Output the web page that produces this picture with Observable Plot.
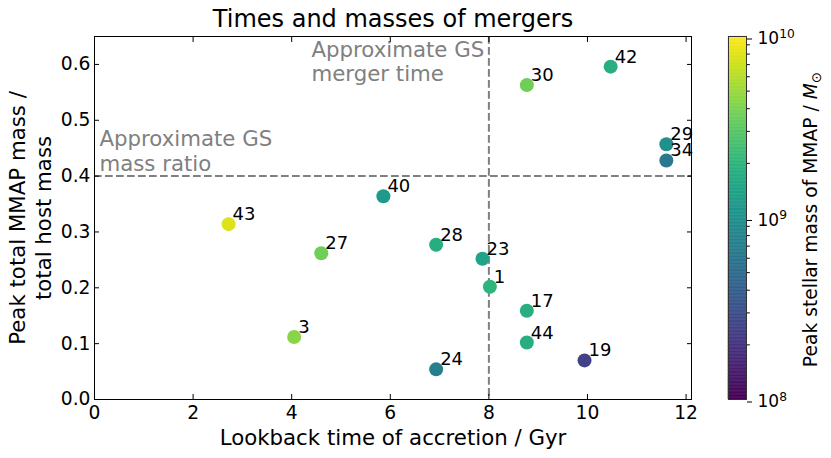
<!DOCTYPE html>
<html>
<head>
<meta charset="utf-8">
<script src="https://cdn.jsdelivr.net/npm/d3@7"></script>
<script src="https://cdn.jsdelivr.net/npm/@observablehq/plot@0.6"></script>
<style>
  html, body { margin: 0; padding: 0; background: white; }
  #wrap { position: relative; width: 831px; height: 458px; overflow: hidden; background: white; }
  #main { position: absolute; left: 0; top: 0; }
  #cbar { position: absolute; left: 700px; top: 0; }
</style>
</head>
<body>
<div id="wrap"><div id="main"></div><div id="cbar"></div></div>
<script>
// ---- data ----
const ids = ["43", "27", "3", "40", "28", "24", "23", "1", "30", "17", "44", "19", "42", "29", "34"];
const lookback = [2.72, 4.60, 4.05, 5.86, 6.93, 6.93, 7.87, 8.02, 8.77, 8.77, 8.77, 9.94, 10.47, 11.60, 11.60];
const massRatio = [0.314, 0.262, 0.112, 0.364, 0.277, 0.054, 0.252, 0.202, 0.563, 0.159, 0.102, 0.070, 0.596, 0.457, 0.428];
const stellarMass = [7.9e9, 3.6e9, 4.4e9, 1.2e9, 1.75e9, 7.2e8, 1.45e9, 2.0e9, 3.6e9, 1.8e9, 1.8e9, 2.5e8, 1.8e9, 1.0e9, 6.3e8];

const xTicks = [0, 2, 4, 6, 8, 10, 12];
const yTicks = [0, 0.1, 0.2, 0.3, 0.4, 0.5, 0.6];
const cbMajor = [1e8, 1e9, 1e10];
const cbMinor = [2e8, 3e8, 4e8, 5e8, 6e8, 7e8, 8e8, 9e8, 2e9, 3e9, 4e9, 5e9, 6e9, 7e9, 8e9, 9e9];

const gsTime = [8];
const gsRatio = [0.4];
const annotX = [4.4, 0.1];
const annotY = [0.570, 0.410];
const annotText = ["Approximate GS\nmerger time", "Approximate GS\nmass ratio"];

const title = "Times and masses of mergers";
const xLabel = "Lookback time of accretion / Gyr";
const yLabel1 = "Peak total MMAP mass /";
const yLabel2 = "total host mass";
const cbLabel = "Peak stellar mass of MMAP / M⊙";

const points = ids.map((id, i) => ({id, x: lookback[i], y: massRatio[i], m: stellarMass[i]}));
const annots = annotText.map((t, i) => ({x: annotX[i], y: annotY[i], t}));

const colorOpts = {type: "log", scheme: "viridis", domain: [1e8, 1e10]};
const FONT = "DejaVu Sans";

// ---- main chart ----
const main = Plot.plot({
  width: 700,
  height: 458,
  marginLeft: 94,
  marginRight: 9,
  marginTop: 36,
  marginBottom: 59,
  style: {fontFamily: FONT, fontSize: "18.7px", background: "white", color: "black", overflow: "visible"},
  x: {domain: [0, 12.11]},
  y: {domain: [0, 0.65]},
  color: colorOpts,
  marks: [
    Plot.ruleX(gsTime, {stroke: "#808080", strokeWidth: 2, strokeDasharray: "7.7,3.3"}),
    Plot.ruleY(gsRatio, {stroke: "#808080", strokeWidth: 2, strokeDasharray: "7.7,3.3"}),
    Plot.text(annots, {x: "x", y: "y", text: "t", textAnchor: "start", lineAnchor: "bottom", lineHeight: 1.14, fill: "#808080", fontSize: 21.3}),
    Plot.dot(points, {x: "x", y: "y", r: 7, fill: "m"}),
    Plot.text(points, {x: "x", y: "y", text: "id", textAnchor: "start", lineAnchor: "bottom", dx: 4, dy: -4, fontSize: 18, fill: "black"}),
    Plot.frame({stroke: "black", strokeWidth: 1}),
    Plot.axisX({ticks: xTicks, tickSize: -5, tickPadding: 11, tickFormat: d3.format("d"), label: null}),
    Plot.axisX({anchor: "top", ticks: xTicks, tickSize: -5, tickFormat: () => "", label: null}),
    Plot.axisY({ticks: yTicks, tickSize: -5, tickPadding: 9, tickFormat: d3.format(".1f"), label: null}),
    Plot.axisY({anchor: "right", ticks: yTicks, tickSize: -5, tickFormat: () => "", label: null}),
    Plot.text([title], {frameAnchor: "top", textAnchor: "middle", lineAnchor: "bottom", dy: -9.5, fontSize: 24, fill: "black"}),
    Plot.text([xLabel], {frameAnchor: "bottom", textAnchor: "middle", lineAnchor: "bottom", dy: 45, fontSize: 21.3, fill: "black"}),
    Plot.text([yLabel1], {frameAnchor: "left", rotate: -90, textAnchor: "middle", lineAnchor: "bottom", dx: -69.6, fontSize: 21.3, fill: "black"}),
    Plot.text([yLabel2], {frameAnchor: "left", rotate: -90, textAnchor: "middle", lineAnchor: "bottom", dx: -44, fontSize: 21.3, fill: "black"})
  ]
});
document.getElementById("main").appendChild(main);

// ---- colorbar ----
const N = 256;
const cbStops = d3.range(N).map(i => ({
  lo: Math.pow(10, 8 + 2 * i / N),
  hi: Math.pow(10, 8 + 2 * (i + 1) / N),
  mid: Math.pow(10, 8 + 2 * (i + 0.5) / N)
}));

const cb = Plot.plot({
  width: 131,
  height: 458,
  marginLeft: 28,
  marginRight: 85,
  marginTop: 36,
  marginBottom: 59,
  style: {fontFamily: FONT, fontSize: "17px", background: "white", color: "black", overflow: "visible"},
  x: {domain: [0, 1], axis: null},
  y: {type: "log", domain: [1e8, 1e10]},
  color: colorOpts,
  marks: [
    Plot.rect(cbStops, {x1: 0, x2: 1, y1: "lo", y2: "hi", fill: "mid", stroke: "mid", strokeWidth: 0.5}),
    Plot.frame({stroke: "#333", strokeWidth: 1}),
    Plot.axisY({anchor: "right", ticks: cbMinor, tickSize: 2.8, tickFormat: () => "", label: null}),
    Plot.axisY({anchor: "right", ticks: cbMajor, tickSize: 5, tickPadding: 6, dy: 2.5,
      tickFormat: d => "10^" + Math.round(Math.log10(d)), label: null}),
    Plot.text([cbLabel], {frameAnchor: "right", rotate: -90, textAnchor: "middle", lineAnchor: "bottom", dx: 70, dy: 1.5, fontSize: 18.7, fill: "black"})
  ]
});
document.getElementById("cbar").appendChild(cb);

// superscripts on colorbar tick labels, italic M with sun symbol subscript
d3.select(cb).selectAll("text").each(function () {
  const t = this.textContent;
  const el = d3.select(this);
  if (/^10\^\d+$/.test(t)) {
    const [b, e] = t.split("^");
    el.text(null);
    el.append("tspan").text(b);
    el.append("tspan").attr("dy", "-0.55em").attr("font-size", "0.72em").text(e);
  } else if (t === cbLabel) {
    el.text(null);
    el.append("tspan").text("Peak stellar mass of MMAP / ");
    el.append("tspan").attr("font-style", "italic").text("M");
    el.append("tspan").attr("dy", "0.3em").attr("font-size", "0.72em").text("⊙");
  }
});
</script>
</body>
</html>
